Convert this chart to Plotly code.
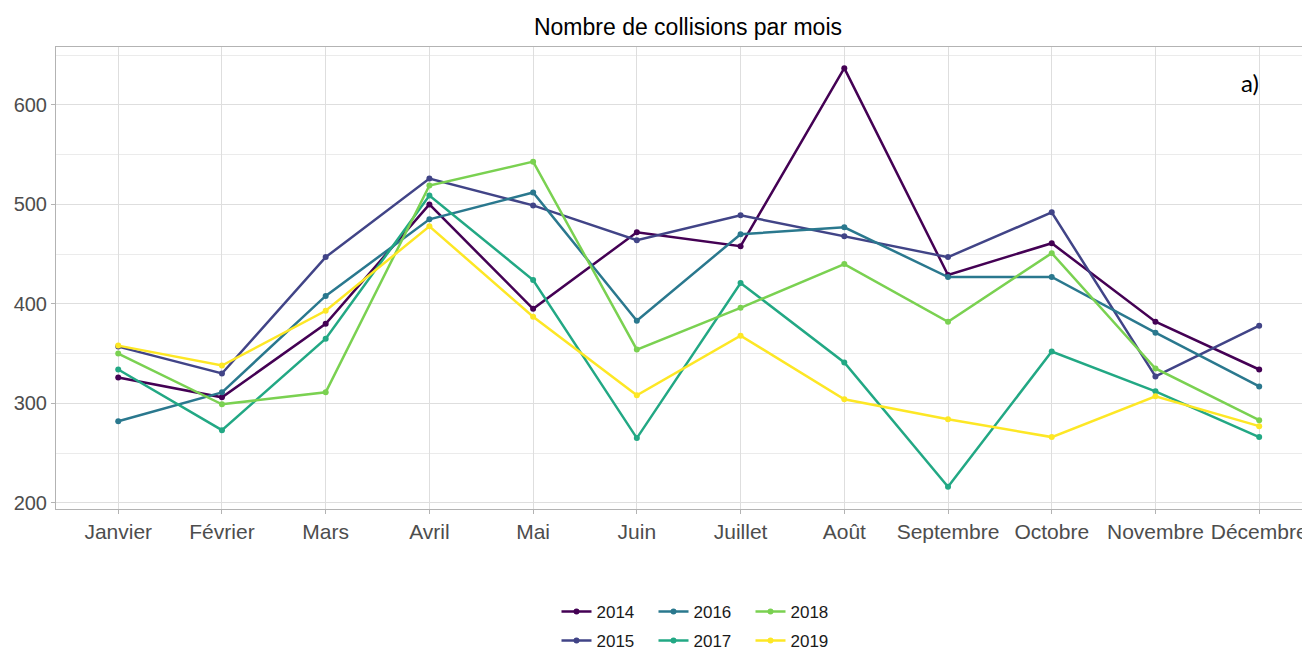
import plotly.graph_objects as go

months = ["Janvier", "Février", "Mars", "Avril", "Mai", "Juin", "Juillet",
          "Août", "Septembre", "Octobre", "Novembre", "Décembre"]
years = ["2014", "2015", "2016", "2017", "2018", "2019"]

v2014 = [326, 306, 380, 500, 395, 472, 458, 637, 429, 461, 382, 334]
v2015 = [357, 330, 447, 526, 499, 464, 489, 468, 447, 492, 327, 378]
v2016 = [282, 311, 408, 485, 512, 383, 470, 477, 427, 427, 371, 317]
v2017 = [334, 273, 365, 509, 424, 265, 421, 341, 216, 352, 312, 266]
v2018 = [350, 299, 311, 519, 543, 354, 396, 440, 382, 451, 335, 283]
v2019 = [358, 338, 393, 478, 387, 308, 368, 304, 284, 266, 307, 277]
series = [v2014, v2015, v2016, v2017, v2018, v2019]

colors = ["#440154", "#414487", "#2A788E", "#22A884", "#7AD151", "#FDE725"]
legend_of = ["legend", "legend2", "legend", "legend2", "legend", "legend2"]

fig = go.Figure()
for name, vals, col, lg in zip(years, series, colors, legend_of):
    fig.add_trace(go.Scatter(
        x=months, y=vals, name=name, mode="lines+markers",
        line=dict(color=col, width=2.5),
        marker=dict(color=col, size=6),
        legend=lg,
    ))

W, H, OFF = 1302, 645, 8
grid = "#DEDEDE"
leg_common = dict(orientation="h", xref="container", yref="container",
                  x=(702 - OFF) / W, xanchor="center", yanchor="middle",
                  entrywidth=52, font=dict(size=17, color="#1A1A1A"))
fig.update_layout(
    width=W, height=H,
    paper_bgcolor="white", plot_bgcolor="white",
    margin=dict(l=48, r=0, t=39, b=144),
    title=dict(text="Nombre de collisions par mois", xref="container",
               x=(688 - OFF) / W, xanchor="center",
               y=1 - (27 - OFF) / H, yanchor="middle",
               font=dict(family="Liberation Sans, Arial", size=23, color="black")),
    font=dict(family="Liberation Sans, Arial"),
    showlegend=True,
    legend=dict(leg_common, y=1 - (612 - OFF) / H),
    legend2=dict(leg_common, y=1 - (641 - OFF) / H),
    annotations=[dict(text="a)", xref="paper", yref="paper", x=0.952, y=0.924,
                      xanchor="center", yanchor="middle", showarrow=False,
                      font=dict(family="Lato, Open Sans", size=24, color="black"))],
)
fig.update_xaxes(
    range=[-0.6, 11.49], showgrid=True, gridcolor=grid, gridwidth=1,
    ticks="outside", ticklen=4, tickcolor="#B3B3B3",
    tickfont=dict(size=21, color="#4D4D4D"),
    showline=True, linecolor="#B3B3B3", mirror=True, zeroline=False,
)
fig.update_yaxes(
    range=[193.7, 658.3], tickvals=[200, 300, 400, 500, 600],
    showgrid=True, gridcolor=grid, gridwidth=1,
    minor=dict(tickvals=[250, 350, 450, 550, 650], showgrid=True, gridcolor="#EBEBEB", gridwidth=1),
    ticks="outside", ticklen=4, tickcolor="#B3B3B3",
    tickfont=dict(size=20, color="#4D4D4D"),
    showline=True, linecolor="#B3B3B3", mirror=True, zeroline=False,
)

fig.write_html("out.html")
